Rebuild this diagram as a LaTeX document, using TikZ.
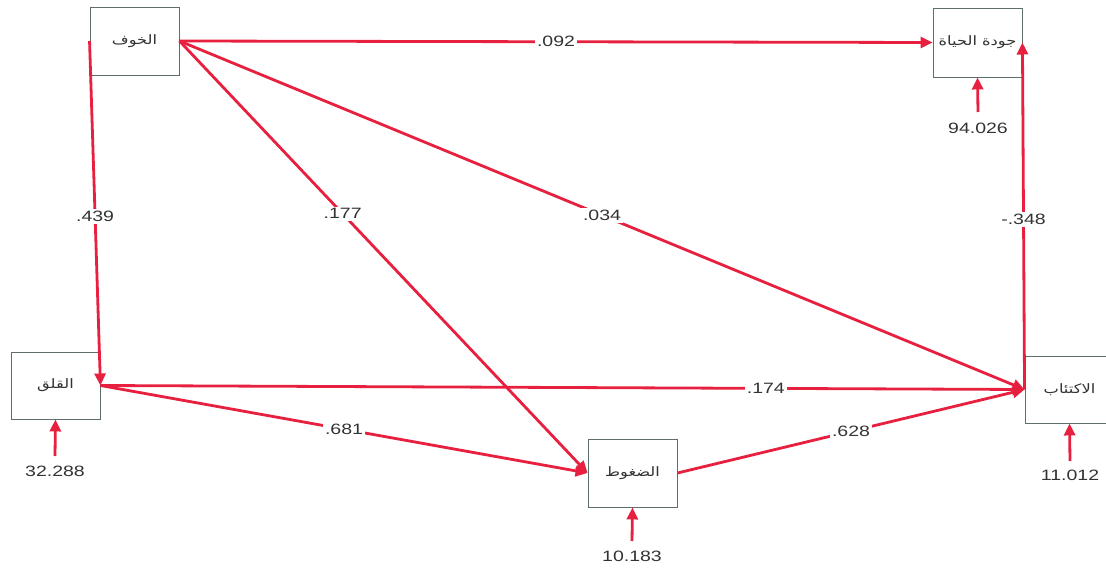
\documentclass[tikz,border=0pt]{standalone}
\usepackage{fontspec}
\setmainfont{Liberation Sans}
\newfontfamily\arabicfont[Script=Arabic,FakeStretch=1.25]{DejaVu Sans}
\newfontfamily\numfont[FakeStretch=1.3]{Liberation Sans}
\TeXXeTstate=1
\usetikzlibrary{arrows.meta}
\definecolor{pathred}{HTML}{E8203F}
\definecolor{boxgray}{HTML}{5E6E68}
\tikzset{
  varbox/.style={draw=boxgray, line width=0.9pt, minimum width=89pt, minimum height=68pt, inner sep=0pt, font=\arabicfont\fontsize{13}{15}\selectfont, text=black!80},
  pathline/.style={draw=pathred, line width=2.8pt, -{Triangle[length=12pt,width=11pt]}},
  coef/.style={fill=white, inner sep=2pt, font=\numfont\fontsize{15}{17}\selectfont, text=black!80},
  errlab/.style={inner sep=1pt, font=\numfont\fontsize{15}{17}\selectfont, text=black!80}
}
\begin{document}
\begin{tikzpicture}[x=1pt,y=-1pt]
\useasboundingbox (0,0) rectangle (1106,569);
\fill[white] (0,0) rectangle (1106,569);
% boxes
\node[varbox] (fear) at (134.5,41) {\beginR الخوف\endR};
\node[varbox, minimum height=69pt] (qol) at (977.5,42.5) {\beginR جودة الحياة\endR};
\node[varbox, minimum height=67pt] (anx) at (55.5,385.5) {\beginR القلق\endR};
\node[varbox] (str) at (632.5,473) {\beginR الضغوط\endR};
\node[varbox, minimum height=67pt] (dep) at (1069.5,389.5) {\beginR الاكتئاب\endR};
% error terms
\coordinate (eqol) at (978,112);
\coordinate (eanx) at (55,456);
\coordinate (estr) at (632,541);
\coordinate (edep) at (1070,461);
\node[errlab] (lqol) at (978,128) {94.026};
\node[errlab] (lanx) at (55,471) {32.288};
\node[errlab] (lstr) at (632,556) {10.183};
\node[errlab] (ldep) at (1070,475) {11.012};
\draw[pathline] (eqol) -- (qol.south);
\draw[pathline] (eanx) -- (anx.south);
\draw[pathline] (estr) -- (str.south);
\draw[pathline] (edep) -- (dep.south);
% paths
\draw[pathline] (fear.east) -- node[coef, pos=0.50] {.092} (qol.west);
\draw[pathline] (fear.west) -- node[coef, pos=0.51] {.439} (anx.east);
\draw[pathline] (fear.east) -- node[coef, pos=0.40] {.177} (str.west);
\draw[pathline] (fear.east) -- node[coef, pos=0.50] {.034} (dep.west);
\draw[pathline] (dep.west) -- node[coef, pos=0.49] {-.348} (qol.east);
\draw[pathline] (anx.east) -- node[coef, pos=0.72] {.174} (dep.west);
\draw[pathline] (anx.east) -- node[coef, pos=0.50] {.681} (str.west);
\draw[pathline] (str.east) -- node[coef, pos=0.50] {.628} (dep.west);
\end{tikzpicture}
\end{document}
